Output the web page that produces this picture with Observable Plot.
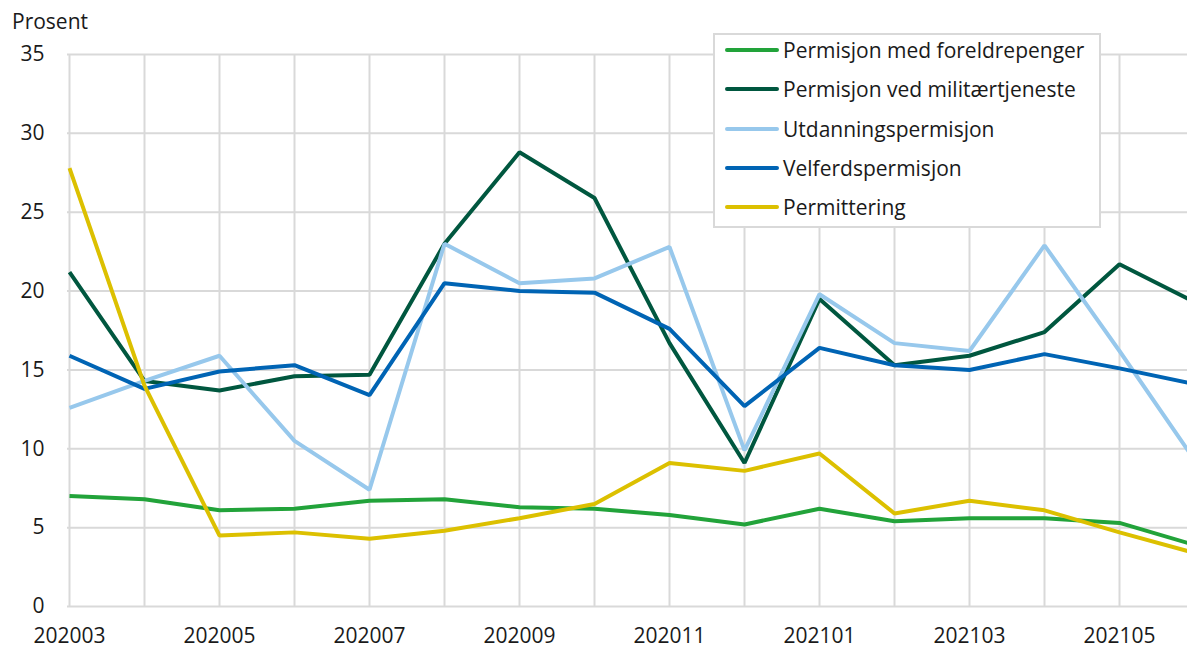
<!DOCTYPE html>
<html>
<head>
<meta charset="utf-8">
<script src="https://cdn.jsdelivr.net/npm/d3@7"></script>
<script src="https://cdn.jsdelivr.net/npm/@observablehq/plot@0.6"></script>
<style>
  html, body { margin: 0; padding: 0; background: #fff; overflow: hidden; }
  body { width: 1187px; height: 648px; position: relative; font-family: "Open Sans", "Noto Sans", sans-serif; }
  #chart { position: absolute; left: 0; top: 0; width: 1200px; }
  #chart svg { max-width: none !important; }
  #ylabel { position: absolute; left: 12px; top: 7px; font-size: 21px; color: #1a1a1a; }
  #legend { position: absolute; left: 713px; top: 33px; width: 388px; height: 195px; background: #fff; border: 2px solid #d9d9d9; box-sizing: border-box; }
  .item { position: absolute; left: 10px; display: flex; align-items: center; font-size: 21px; color: #1a1a1a; white-space: nowrap; }
  .swatch { width: 54px; height: 4px; border-radius: 2px; margin-right: 4px; }
</style>
</head>
<body>
<div id="chart"></div>
<div id="ylabel">Prosent</div>
<div id="legend"></div>
<script>
const months = ["202003","202004","202005","202006","202007","202008","202009","202010","202011","202012","202101","202102","202103","202104","202105","202106"];
const seriesNames = ["Permisjon med foreldrepenger","Permisjon ved militærtjeneste","Utdanningspermisjon","Velferdspermisjon","Permittering"];
const seriesColors = ["#22a33a","#00573f","#97c8ec","#0064b4","#dcc000"];
const foreldrepenger = [7.0,6.8,6.1,6.2,6.7,6.8,6.3,6.2,5.8,5.2,6.2,5.4,5.6,5.6,5.3,3.9];
const militaer = [21.2,14.3,13.7,14.6,14.7,23.0,28.8,25.9,16.7,9.1,19.5,15.3,15.9,17.4,21.7,19.3];
const utdanning = [12.6,14.3,15.9,10.5,7.4,23.0,20.5,20.8,22.8,9.9,19.8,16.7,16.2,22.9,16.2,9.3];
const velferd = [15.9,13.8,14.9,15.3,13.4,20.5,20.0,19.9,17.6,12.7,16.4,15.3,15.0,16.0,15.1,14.1];
const permittering = [27.8,14.0,4.5,4.7,4.3,4.8,5.6,6.5,9.1,8.6,9.7,5.9,6.7,6.1,4.7,3.4];
const yTicks = [0,5,10,15,20,25,30,35];
const xTickLabels = ["202003","202005","202007","202009","202011","202101","202103","202105"];

const allValues = [foreldrepenger, militaer, utdanning, velferd, permittering];
const data = [];
seriesNames.forEach((name, i) => {
  months.forEach((m, j) => data.push({series: name, month: m, value: allValues[i][j]}));
});

const chart = Plot.plot({
  width: 1200,
  height: 648,
  marginTop: 54,
  marginBottom: 42,
  marginLeft: 67,
  marginRight: 4,
  style: {fontFamily: '"Open Sans", "Noto Sans", sans-serif', fontSize: "21px", color: "#1a1a1a", background: "#fff", maxWidth: "none"},
  x: {type: "point", domain: months, padding: 0},
  y: {domain: [0, 35]},
  color: {domain: seriesNames, range: seriesColors},
  marks: [
    Plot.ruleX(months, {x: d => d, y1: 0, y2: 35, stroke: "#d9d9d9", strokeWidth: 2, strokeOpacity: 1}),
    Plot.ruleY(yTicks, {y: d => d, stroke: "#d9d9d9", strokeWidth: 2, strokeOpacity: 1}),
    Plot.axisY({ticks: yTicks, tickSize: 0, tickPadding: 23, label: null, fontSize: 21}),
    Plot.axisX({ticks: xTickLabels, tickSize: 0, tickPadding: 22, label: null, fontSize: 21}),
    Plot.line(data, {x: "month", y: "value", z: "series", stroke: "series", strokeWidth: 4, strokeLinejoin: "miter", strokeLinecap: "butt"})
  ]
});
document.getElementById("chart").appendChild(chart);

const legend = document.getElementById("legend");
seriesNames.forEach((name, i) => {
  const item = document.createElement("div");
  item.className = "item";
  item.style.top = (1 + i * 39.3) + "px";
  item.style.height = "28px";
  const sw = document.createElement("div");
  sw.className = "swatch";
  sw.style.background = seriesColors[i];
  const t = document.createElement("span");
  t.textContent = name;
  item.appendChild(sw);
  item.appendChild(t);
  legend.appendChild(item);
});
</script>
</body>
</html>
